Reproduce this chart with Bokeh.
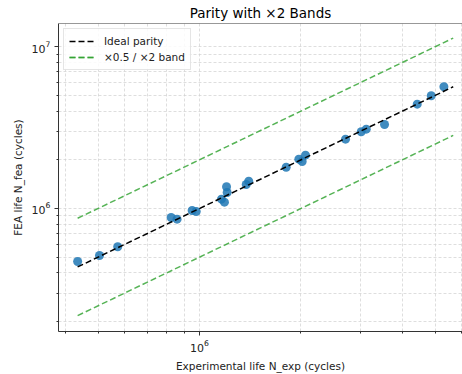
from bokeh.plotting import figure
from bokeh.models import FixedTicker, Span, Range1d
from bokeh.embed import file_html
from bokeh.resources import INLINE

# Data
n_exp = [4.35e5, 5.05e5, 5.72e5, 8.24e5, 8.58e5, 9.51e5, 9.78e5, 1.162e6,
         1.186e6, 1.203e6, 1.208e6, 1.376e6, 1.400e6, 1.808e6, 1.971e6,
         2.017e6, 2.063e6, 2.712e6, 3.019e6, 3.124e6, 3.54e6, 4.426e6,
         4.87e6, 5.31e6]
n_fea = [4.70e5, 5.12e5, 5.80e5, 8.80e5, 8.59e5, 9.72e5, 9.58e5, 1.142e6,
         1.094e6, 1.362e6, 1.256e6, 1.407e6, 1.475e6, 1.800e6, 2.018e6,
         1.953e6, 2.136e6, 2.683e6, 2.981e6, 3.094e6, 3.307e6, 4.416e6,
         4.98e6, 5.66e6]
band_factors = [0.5, 2.0]
major_ticks = [1e5, 1e6, 1e7, 1e8]
minor_ticks = [m * 10 ** e for e in (5, 6, 7) for m in range(2, 10)]

x_start, x_end = 3.817e5, 6.03e6
y_start, y_end = 1.735e5, 1.393e7

lo = min(min(n_exp), min(n_fea))
hi = max(max(n_exp), max(n_fea))

FONT = "DejaVu Sans"

p = figure(width=462, height=374, x_axis_type="log", y_axis_type="log",
           x_range=Range1d(x_start, x_end), y_range=Range1d(y_start, y_end),
           output_backend="svg", toolbar_location=None,
           title="Parity with ×2 Bands",
           min_border_left=58, min_border_right=0, min_border_top=4,
           min_border_bottom=4)

p.title.text_font = FONT
p.title.text_font_size = "13.5px"
p.title.text_font_style = "normal"
p.title.align = "center"
p.title.offset = 5
p.title.standoff = 5
p.title.text_color = "#000000"

p.outline_line_color = None
p.add_layout(Span(location=y_end, dimension="width", line_color="#333333",
                  line_width=1))

p.scatter(n_exp, n_fea, size=9, color="#1f77b4", alpha=0.85, line_color=None)

p.line([lo, hi], [lo, hi], line_color="black", line_width=1.5,
       line_dash="6 3", legend_label="Ideal parity")
for f in band_factors:
    p.line([lo, hi], [lo * f, hi * f], line_color="#2ca02c", line_alpha=0.8,
           line_width=1.5, line_dash="6 3", legend_label="×0.5 / ×2 band")

for ax in (p.xaxis[0], p.yaxis[0]):
    ax.ticker = FixedTicker(ticks=major_ticks, minor_ticks=minor_ticks)
    ax.axis_line_color = "#333333"
    ax.major_tick_line_color = "#333333"
    ax.minor_tick_line_color = "#333333"
    ax.major_tick_in = 0
    ax.major_tick_out = 4
    ax.minor_tick_in = 0
    ax.minor_tick_out = 2
    ax.major_label_text_font = FONT
    ax.major_label_text_font_size = "11px"
    ax.major_label_text_color = "#222222"
    ax.axis_label_text_font = FONT
    ax.axis_label_text_font_size = "10.5px"
    ax.axis_label_text_font_style = "normal"
    ax.axis_label_text_color = "#222222"
    ax.major_label_standoff = 4
    ax.axis_label_standoff = 5

p.xaxis.axis_label = "Experimental life N_exp (cycles)"
p.yaxis.axis_label = "FEA life N_fea (cycles)"

for g in (p.xgrid[0], p.ygrid[0]):
    g.grid_line_color = "#d0d0d0"
    g.grid_line_dash = "3 2"
    g.grid_line_alpha = 0.7
    g.minor_grid_line_color = "#d0d0d0"
    g.minor_grid_line_dash = "3 2"
    g.minor_grid_line_alpha = 0.7

lg = p.legend[0]
lg.location = "top_left"
lg.label_text_font = FONT
lg.label_text_font_size = "10.5px"
lg.label_text_color = "#222222"
lg.glyph_width = 27
lg.glyph_height = 14
lg.label_standoff = 8
lg.spacing = 2
lg.padding = 5
lg.margin = 5
lg.border_line_color = "#cccccc"
lg.background_fill_alpha = 0.85

open("out.html", "w").write(file_html(p, INLINE))
